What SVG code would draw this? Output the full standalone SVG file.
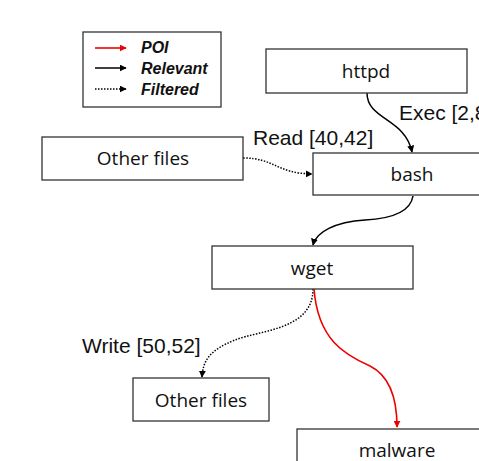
<svg xmlns="http://www.w3.org/2000/svg" width="479" height="461" viewBox="0 0 479 461">
  <defs>
    <marker id="ah" viewBox="0 0 10 10" refX="9" refY="5" markerWidth="7" markerHeight="7" orient="auto" markerUnits="userSpaceOnUse">
      <path d="M0,0 L10,5 L0,10 z" fill="#000"/>
    </marker>
    <marker id="ahr" viewBox="0 0 10 10" refX="9" refY="5" markerWidth="7" markerHeight="7" orient="auto" markerUnits="userSpaceOnUse">
      <path d="M0,0 L10,5 L0,10 z" fill="#e00"/>
    </marker>
    <style>
      .box { fill: #fff; stroke: #333; stroke-width: 1.3; }
      .nlabel { font-family: "Open Sans", "Noto Sans", sans-serif; font-size: 19px; fill: #111; text-anchor: middle; }
      .elabel { font-family: "Liberation Sans", Arial, sans-serif; font-size: 21px; fill: #111; }
      .leg { font-family: "Liberation Sans", Arial, sans-serif; font-size: 16px; font-weight: bold; font-style: italic; fill: #111; }
      .rel { fill: none; stroke: #000; stroke-width: 1.5; }
      .poi { fill: none; stroke: #e00; stroke-width: 1.6; }
      .flt { fill: none; stroke: #000; stroke-width: 1.5; stroke-dasharray: 1.5 1.5; }
    </style>
  </defs>

  <!-- legend -->
  <g id="legend">
    <rect x="83" y="32" width="138" height="75" fill="#fff" stroke="#333" stroke-width="1.3"/>
    <line class="poi" x1="95" y1="48" x2="126" y2="48" marker-end="url(#ahr)"/>
    <line class="rel" x1="95" y1="68" x2="126" y2="68" marker-end="url(#ah)"/>
    <line class="flt" x1="95" y1="89" x2="126" y2="89" marker-end="url(#ah)"/>
    <text class="leg" x="141" y="53">POI</text>
    <text class="leg" x="141" y="74">Relevant</text>
    <text class="leg" x="141" y="95">Filtered</text>
  </g>

  <!-- connectors -->
  <g id="edges">
    <path class="rel" d="M367,93 C367,120 405,118 412,152" marker-end="url(#ah)"/>
    <path class="flt" d="M243,158 C275,158 275,173 312,174" marker-end="url(#ah)"/>
    <path class="rel" d="M413,196 C410,215 385,219 365,220 C335,222 316,232 313,245" marker-end="url(#ah)"/>
    <path class="flt" d="M313,289 C313,330 260,330 235,340 C210,350 203,360 202,377" marker-end="url(#ah)"/>
    <path class="poi" d="M314,289 C318,340 345,355 370,366 C390,376 397,400 397,427" marker-end="url(#ahr)"/>
    <text class="elabel" x="399" y="120">Exec [2,8]</text>
    <text class="elabel" x="253" y="145">Read [40,42]</text>
    <text class="elabel" x="82" y="353">Write [50,52]</text>
  </g>

  <!-- nodes -->
  <g id="node-httpd">
    <rect class="box" x="266" y="49" width="201" height="44"/>
    <text class="nlabel" x="366" y="78">httpd</text>
  </g>
  <g id="node-bash">
    <rect class="box" x="313" y="153" width="200" height="42"/>
    <text class="nlabel" x="412" y="181">bash</text>
  </g>
  <g id="node-otherfiles-read">
    <rect class="box" x="42" y="137" width="201" height="43"/>
    <text class="nlabel" x="143" y="165">Other files</text>
  </g>
  <g id="node-wget">
    <rect class="box" x="212" y="246" width="201" height="43"/>
    <text class="nlabel" x="312" y="275">wget</text>
  </g>
  <g id="node-otherfiles-write">
    <rect class="box" x="133" y="378" width="136" height="43"/>
    <text class="nlabel" x="201" y="407">Other files</text>
  </g>
  <g id="node-malware">
    <rect class="box" x="297" y="429" width="200" height="44"/>
    <text class="nlabel" x="397" y="457">malware</text>
  </g>
</svg>
